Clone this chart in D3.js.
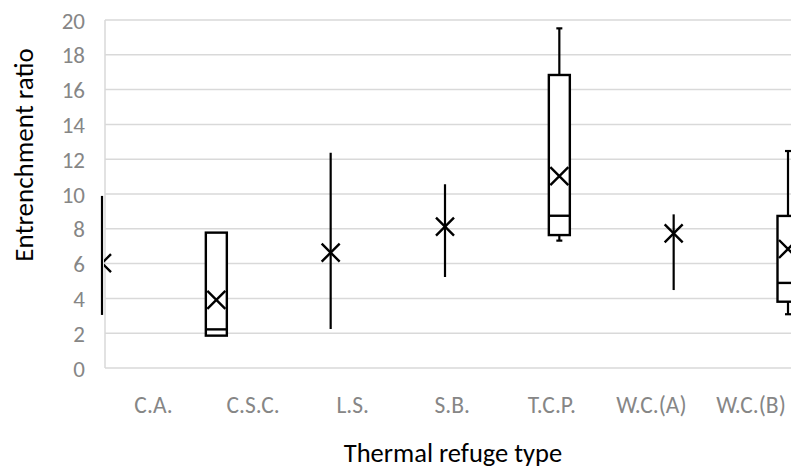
<!DOCTYPE html>
<html>
<head>
<meta charset="utf-8">
<script src="https://cdn.jsdelivr.net/npm/d3@7"></script>
<style>
  body { margin: 0; background: #fff; }
  svg { display: block; font-family: Carlito, Calibri, Lato, sans-serif; }
</style>
</head>
<body>
<svg id="chart" width="791" height="468"></svg>
<script>
// values
const categories = ["C.A.", "C.S.C.", "L.S.", "S.B.", "T.C.P.", "W.C.(A)", "W.C.(B)"];
const whiskerLow  = [3.05, 1.86, 2.24, 5.23, 7.32, 4.48, 3.09];
const q1          = [null, 1.86, null, null, 7.64, null, 3.81];
const median      = [null, 2.22, null, null, 8.75, null, 4.89];
const q3          = [null, 7.78, null, null, 16.84, null, 8.74];
const whiskerHigh = [9.89, 7.78, 12.37, 10.56, 19.52, 8.83, 12.47];
const means       = [6.03, 3.91, 6.63, 8.12, 11.03, 7.74, 6.84];
const yTicks = [0, 2, 4, 6, 8, 10, 12, 14, 16, 18, 20];

const svg = d3.select("#chart");
const width = +svg.attr("width");
const plotLeft = 105, plotTop = 20, plotBottom = 368;

const y = d3.scaleLinear().domain([0, 20]).range([plotBottom, plotTop]);
// the boxes sit on a wider spacing than the category labels in the original
const x = d3.scalePoint().domain(categories).range([102, 788]);
const xLabel = d3.scalePoint().domain(categories).range([153.5, 751]);

const rows = categories.map((c, i) => ({
  cat: c, lo: whiskerLow[i], q1: q1[i], med: median[i], q3: q3[i], hi: whiskerHigh[i], mean: means[i]
}));

// gridlines
svg.append("g")
  .selectAll("line")
  .data(yTicks)
  .join("line")
  .attr("x1", plotLeft).attr("x2", width)
  .attr("y1", d => y(d)).attr("y2", d => y(d))
  .attr("stroke", "#d9d9d9").attr("stroke-width", 1.5);

svg.append("line")
  .attr("x1", plotLeft).attr("x2", plotLeft)
  .attr("y1", y(20)).attr("y2", y(0))
  .attr("stroke", "#d9d9d9").attr("stroke-width", 1.5);

// y tick labels
svg.append("g")
  .selectAll("text")
  .data(yTicks)
  .join("text")
  .attr("x", 85).attr("y", d => y(d) + 8.5)
  .attr("text-anchor", "end")
  .attr("fill", "#868686")
  .attr("font-size", 23)
  .text(d => d);

// category labels
svg.append("g")
  .selectAll("text")
  .data(categories)
  .join("text")
  .attr("x", d => xLabel(d)).attr("y", 413)
  .attr("text-anchor", "middle")
  .attr("fill", "#868686")
  .attr("font-size", 23.5)
  .text(d => d);

// axis titles
svg.append("text")
  .attr("transform", "translate(33," + 155 + ") rotate(-90)")
  .attr("text-anchor", "middle")
  .attr("font-size", 27)
  .attr("fill", "#000")
  .text("Entrenchment ratio");

svg.append("text")
  .attr("x", 453).attr("y", 462)
  .attr("text-anchor", "middle")
  .attr("font-size", 26.5)
  .attr("fill", "#000")
  .text("Thermal refuge type");

// boxes and whiskers
const boxW = 21, capW = 6;
const g = svg.append("g").attr("stroke", "#000").attr("fill", "none");

rows.forEach(d => {
  const cx = x(d.cat);
  if (d.q1 == null) {
    g.append("line")
      .attr("x1", cx).attr("x2", cx)
      .attr("y1", y(d.lo)).attr("y2", y(d.hi))
      .attr("stroke-width", 2.2);
    return;
  }
  if (d.hi > d.q3) {
    g.append("line").attr("x1", cx).attr("x2", cx)
      .attr("y1", y(d.q3)).attr("y2", y(d.hi)).attr("stroke-width", 2.2);
    g.append("line").attr("x1", cx - capW / 2).attr("x2", cx + capW / 2)
      .attr("y1", y(d.hi)).attr("y2", y(d.hi)).attr("stroke-width", 2.2);
  }
  if (d.lo < d.q1) {
    g.append("line").attr("x1", cx).attr("x2", cx)
      .attr("y1", y(d.q1)).attr("y2", y(d.lo)).attr("stroke-width", 2.2);
    g.append("line").attr("x1", cx - capW / 2).attr("x2", cx + capW / 2)
      .attr("y1", y(d.lo)).attr("y2", y(d.lo)).attr("stroke-width", 2.2);
  }
  g.append("rect")
    .attr("x", cx - boxW / 2).attr("width", boxW)
    .attr("y", y(d.q3)).attr("height", y(d.q1) - y(d.q3))
    .attr("fill", "#fff")
    .attr("stroke-width", 2.4);
  g.append("line")
    .attr("x1", cx - boxW / 2).attr("x2", cx + boxW / 2)
    .attr("y1", y(d.med)).attr("y2", y(d.med))
    .attr("stroke-width", 2.4);
});

// mean markers (clipped to the plot like the original)
svg.append("clipPath").attr("id", "plotClip")
  .append("rect").attr("x", 104).attr("y", 0).attr("width", width).attr("height", plotBottom + 5);

const m = 9;
svg.append("g")
  .attr("clip-path", "url(#plotClip)")
  .attr("stroke", "#000").attr("stroke-width", 2.4)
  .selectAll("path")
  .data(rows)
  .join("path")
  .attr("d", d => {
    const cx = x(d.cat), cy = y(d.mean);
    return `M${cx - m},${cy - m}L${cx + m},${cy + m}M${cx - m},${cy + m}L${cx + m},${cy - m}`;
  });
</script>
</body>
</html>
